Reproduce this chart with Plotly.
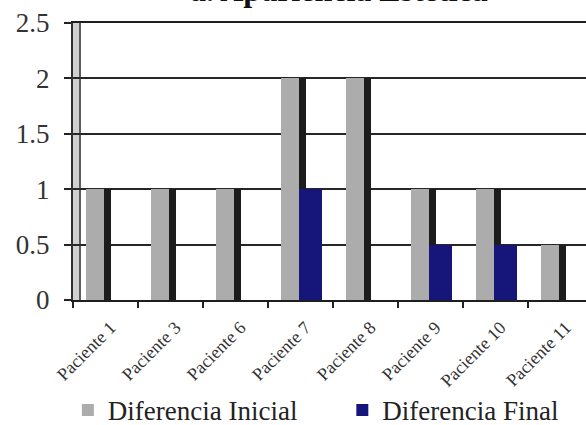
import plotly.graph_objects as go

# Patients on the horizontal axis
pacientes = ["Paciente 1", "Paciente 3", "Paciente 6", "Paciente 7",
             "Paciente 8", "Paciente 9", "Paciente 10", "Paciente 11"]

# Difference scores per patient
diferencia_inicial = [1, 1, 1, 2, 2, 1, 1, 0.5]
diferencia_final = [0, 0, 0, 1, 0, 0.5, 0.5, 0]

y_ticks = [0, 0.5, 1, 1.5, 2, 2.5]
y_tick_text = ["0", "0.5", "1", "1.5", "2", "2.5"]

GRIS = "#acacac"
SOMBRA = "#1c1c1c"
AZUL = "#15157a"
SERIF = "Liberation Serif"

fig = go.Figure()

# front face of the initial-difference bars
fig.add_trace(go.Bar(
    x=pacientes, y=diferencia_inicial, name="Diferencia Inicial",
    marker=dict(color=GRIS, line=dict(width=0)),
    width=0.28, offset=-0.30, legend="legend",
))
# dark side face of the same bars (3-D look)
fig.add_trace(go.Bar(
    x=pacientes, y=diferencia_inicial, name="lado",
    marker=dict(color=SOMBRA, line=dict(width=0)),
    width=0.10, offset=-0.02, showlegend=False, hoverinfo="skip",
))
fig.add_trace(go.Bar(
    x=pacientes, y=diferencia_final, name="Diferencia Final",
    marker=dict(color=AZUL, line=dict(width=0)),
    width=0.35, offset=-0.02, legend="legend2",
))

# left wall of the chart: a thin grey double line
fig.add_shape(type="rect", xref="x domain", yref="y domain",
              x0=0, x1=0.0137, y0=0, y1=1,
              fillcolor="#d0d0d0", line=dict(width=0), layer="below")
fig.add_shape(type="line", xref="x domain", yref="y domain",
              x0=0.0137, x1=0.0137, y0=0, y1=1,
              line=dict(color="#303030", width=1.5))

# chart title, sitting at the very top edge of the page
fig.add_annotation(text="<b>a. Apariencia Estética</b>",
                   xref="paper", yref="paper", x=0.518, y=1.12,
                   xanchor="center", yanchor="middle", showarrow=False,
                   font=dict(family=SERIF, size=32, color="#111"))

legend_style = dict(orientation="h", xanchor="left",
                    yref="container", y=0.092, yanchor="top",
                    font=dict(family=SERIF, size=27, color="#222"),
                    itemsizing="constant", bgcolor="rgba(0,0,0,0)")

fig.update_layout(
    width=586, height=425,
    margin=dict(l=73, r=0, t=23, b=125, autoexpand=False),
    paper_bgcolor="white", plot_bgcolor="white",
    barmode="overlay", bargap=0,
    showlegend=True,
    legend=dict(x=-0.01, **legend_style),
    legend2=dict(x=0.525, **legend_style),
    font=dict(family=SERIF, color="#222"),
)

fig.update_xaxes(
    type="category", range=[-0.5, 7.39],
    showline=True, mirror=True, linecolor="#1e1e1e", linewidth=2,
    ticks="outside", ticklen=6, tickcolor="#222", tickwidth=1.5,
    tickson="boundaries", tickangle=-45,
    tickfont=dict(family=SERIF, size=18, color="#333"),
    ticklabelstandoff=8, ticklabelshift=5,
    showgrid=False, automargin=False,
)
fig.update_yaxes(
    range=[0, 2.5], tickvals=y_ticks, ticktext=y_tick_text,
    showline=True, linecolor="#303030", linewidth=2,
    ticks="outside", ticklen=7, tickcolor="#222", tickwidth=1.5,
    tickfont=dict(family=SERIF, size=27, color="#333"),
    ticklabelstandoff=9,
    showgrid=True, gridcolor="#262626", gridwidth=2,
    zeroline=False, automargin=False,
)

fig.write_html("out.html")
